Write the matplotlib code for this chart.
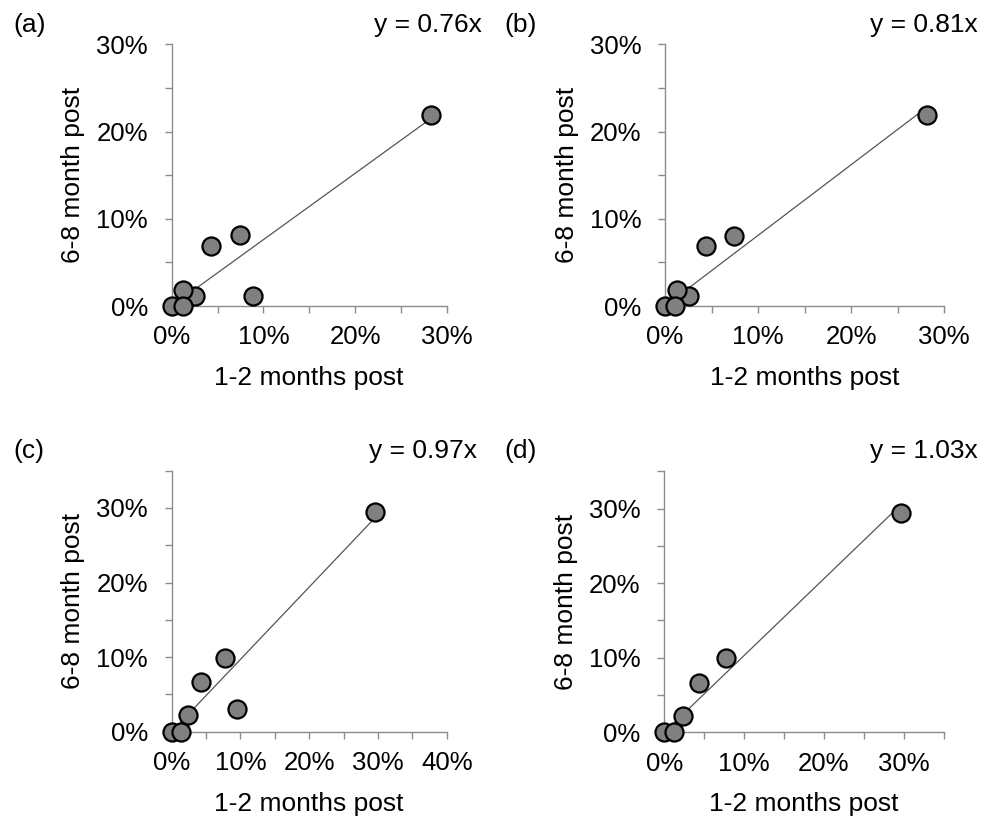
import numpy as np
import matplotlib
matplotlib.use("Agg")
import matplotlib.pyplot as plt
from matplotlib.ticker import MultipleLocator, FuncFormatter

plt.rcParams['font.family'] = ['Liberation Sans', 'DejaVu Sans']

# values in percent
a_x = [28.3, 7.5, 4.3, 8.9, 2.5, 1.2, 0.0, 1.2]
a_y = [21.9, 8.1, 6.9, 1.2, 1.2, 1.8, 0.0, 0.0]
b_x = [28.1, 7.45, 4.4, 2.6, 1.25, 0.0, 1.1]
b_y = [21.9, 8.06, 6.9, 1.2, 1.8, 0.0, 0.0]
c_x = [29.6, 7.8, 4.2, 9.5, 2.4, 0.0, 1.3]
c_y = [29.5, 9.9, 6.7, 3.1, 2.2, 0.0, 0.0]
d_x = [29.6, 7.7, 4.3, 2.3, 0.0, 1.2]
d_y = [29.4, 9.9, 6.6, 2.2, 0.0, 0.0]

panel_labels = ['(a)', '(b)', '(c)', '(d)']
slopes = [0.76, 0.81, 0.97, 1.03]
x_limits = [30, 30, 40, 35]
y_limits = [30, 30, 35, 35]

xs = [a_x, b_x, c_x, d_x]
ys = [a_y, b_y, c_y, d_y]

# axes boxes in pixels: left, right, top, bottom
boxes = [(171.7, 446.7, 44.3, 306.0),
         (665.0, 944.3, 44.3, 306.0),
         (171.7, 446.7, 470.7, 731.7),
         (664.3, 943.7, 471.3, 732.3)]

W, H = 982, 818
fig = plt.figure(figsize=(W / 100, H / 100), dpi=100)

pct = FuncFormatter(lambda v, p: f"{v:.0f}%")
spine_col = '#8c8c8c'

for i in range(4):
    l, r, t, b = boxes[i]
    ax = fig.add_axes([l / W, (H - b) / H, (r - l) / W, (b - t) / H])
    x = np.array(xs[i])
    y = np.array(ys[i])

    xx = np.array([0, x.max()])
    ax.plot(xx, slopes[i] * xx, color='#555555', lw=0.9, zorder=2)
    ax.plot(x, y, 'o', ms=13, mfc='#808080', mec='black', mew=1.6,
            clip_on=False, zorder=3)

    ax.set_xlim(0, x_limits[i])
    ax.set_ylim(0, y_limits[i])
    ax.xaxis.set_major_locator(MultipleLocator(10))
    ax.yaxis.set_major_locator(MultipleLocator(10))
    ax.xaxis.set_minor_locator(MultipleLocator(5))
    ax.yaxis.set_minor_locator(MultipleLocator(5))
    ax.xaxis.set_major_formatter(pct)
    ax.yaxis.set_major_formatter(pct)

    for s in ['top', 'right']:
        ax.spines[s].set_visible(False)
    for s in ['left', 'bottom']:
        ax.spines[s].set_color(spine_col)
        ax.spines[s].set_linewidth(1.0)

    ax.tick_params(which='both', direction='out', length=5, width=1.0,
                   color=spine_col, labelsize=18.5, labelcolor='black')
    ax.tick_params(axis='x', which='major', pad=9)
    ax.tick_params(axis='y', which='major', pad=12)

    ax.set_xlabel('1-2 months post', fontsize=19, labelpad=12)
    ax.set_ylabel('6-8 month post', fontsize=19, labelpad=8)

    # panel letter and fitted equation
    x0 = 13 if i % 2 == 0 else 504
    xr = 482 if i == 0 else (977.7 if i % 2 == 1 else 477)
    yc = 25 if i < 2 else 451
    fig.text(x0 / W, 1 - yc / H, panel_labels[i], fontsize=19,
             ha='left', va='center')
    fig.text(xr / W, 1 - yc / H, f"y = {slopes[i]:.2f}x", fontsize=19,
             ha='right', va='center')

fig.savefig('out.png', dpi=100)
